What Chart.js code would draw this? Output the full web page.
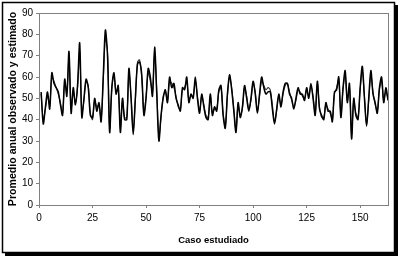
<!DOCTYPE html>
<html>
<head>
<meta charset="utf-8">
<script src="https://cdn.jsdelivr.net/npm/chart.js@4"></script>
<style>
  html, body { margin: 0; padding: 0; background: #fff; }
  #wrap { width: 400px; height: 259px; position: relative; }
</style>
</head>
<body>
<div id="wrap"><canvas id="chart" width="400" height="259"></canvas></div>
<script>
// promedio anual observado, casos 1..163
const observado = [
  53, 38, 46, 53, 45, 62, 57, 55, 53, 47, 42, 59, 51, 72, 43, 55, 47, 56, 76, 41,
  50, 59, 55, 42, 41, 50, 44, 48, 39, 60, 82, 70, 34, 55, 62, 52, 56, 34, 50, 40,
  40, 64, 50, 33, 50, 66, 67, 61, 42, 50, 64, 60, 51, 74, 52, 30, 42, 50, 54, 48,
  60, 55, 57, 50, 47, 44, 55, 54, 60, 48, 52, 50, 60, 50, 43, 52, 46, 41, 40, 52,
  42, 46, 44, 54, 56, 42, 36, 52, 61, 54, 44, 34, 48, 41, 46, 56, 50, 44, 50, 58,
  52, 43, 52, 60, 55, 52, 53, 53, 45, 38, 45, 52, 46, 53, 57, 57, 52, 50, 45, 50,
  55, 52, 52, 49, 55, 50, 57, 50, 42, 58, 45, 42, 40, 48, 44, 44, 39, 53, 54, 60,
  41, 55, 63, 48, 57, 31, 50, 42, 40, 55, 65, 50, 37, 50, 63, 52, 48, 43, 55, 60,
  48, 55, 49
];
// promedio anual estimado
const estimado = [
  52, 40, 45, 51, 47, 60, 58, 55, 52, 48, 43, 57, 53, 69, 45, 53, 48, 55, 72, 43,
  49, 58, 56, 43, 40, 49, 46, 47, 40, 58, 78, 72, 36, 54, 61, 53, 54, 36, 49, 41,
  41, 62, 51, 35, 49, 67, 68, 59, 43, 51, 62, 58, 53, 71, 54, 32, 41, 51, 53, 49,
  58, 57, 55, 51, 46, 45, 54, 55, 58, 49, 51, 51, 58, 51, 44, 51, 47, 42, 41, 51,
  43, 45, 45, 53, 55, 43, 37, 51, 60, 55, 45, 35, 47, 42, 45, 55, 51, 45, 49, 57,
  53, 44, 51, 58, 56, 54, 55, 54, 47, 39, 44, 51, 47, 52, 56, 57, 53, 49, 46, 49,
  54, 53, 51, 50, 54, 51, 56, 51, 43, 57, 46, 41, 41, 47, 45, 43, 40, 52, 55, 59,
  42, 54, 61, 49, 55, 33, 49, 43, 41, 54, 63, 51, 38, 49, 61, 53, 47, 44, 54, 58,
  49, 53, 50
];
const xTicks = [0, 25, 50, 75, 100, 125, 150];
const yTicks = [0, 10, 20, 30, 40, 50, 60, 70, 80, 90];

const toPoints = arr => arr.map((v, i) => ({ x: i + 1, y: v }));

const frame = {
  id: "frame",
  beforeDraw(chart) {
    const c = chart.ctx;
    c.save();
    c.fillStyle = "#fff";
    c.fillRect(0, 0, chart.width, chart.height);
    // sombra
    c.fillStyle = "#000";
    c.fillRect(395, 5, 3, 251);
    c.fillRect(5, 253, 393, 3);
    c.strokeStyle = "#000";
    c.lineWidth = 1.5;
    c.strokeRect(2.5, 2.5, 392, 250);
    c.restore();
  },
  afterDatasetsDraw(chart) {
    const a = chart.chartArea;
    const c = chart.ctx;
    c.save();
    c.strokeStyle = "#808080";
    c.lineWidth = 1;
    c.strokeRect(a.left + 0.5, a.top + 0.5, a.right - a.left, a.bottom - a.top);
    c.restore();
  }
};

new Chart(document.getElementById("chart"), {
  type: "line",
  data: {
    datasets: [
      { label: "Observado", data: toPoints(observado), borderColor: "#000", borderWidth: 1.5, pointRadius: 0, tension: 0.3 },
      { label: "Estimado", data: toPoints(estimado), borderColor: "#333", borderWidth: 1.1, pointRadius: 0, tension: 0.3 }
    ]
  },
  plugins: [frame],
  options: {
    responsive: false,
    animation: false,
    layout: { padding: { top: 13, right: 12, left: 0, bottom: 0 } },
    plugins: { legend: { display: false }, tooltip: { enabled: false } },
    scales: {
      x: {
        type: "linear",
        min: 0,
        max: 163,
        afterBuildTicks: s => { s.ticks = xTicks.map(v => ({ value: v })); },
        afterFit: s => { s.height = 54; },
        grid: { drawOnChartArea: false, tickLength: 3, color: "#808080" },
        border: { color: "#808080" },
        ticks: { color: "#000", font: { family: "Liberation Sans", size: 10 }, padding: 4, maxRotation: 0 },
        title: { display: true, text: "Caso estudiado", color: "#000", font: { family: "Liberation Sans", size: 9.5, weight: "bold" }, padding: { top: 0, bottom: 13 } }
      },
      y: {
        min: 0,
        max: 90,
        afterBuildTicks: s => { s.ticks = yTicks.map(v => ({ value: v })); },
        afterFit: s => { s.width = 39; },
        grid: { drawOnChartArea: false, tickLength: 3, color: "#808080" },
        border: { color: "#808080" },
        ticks: { color: "#000", font: { family: "Liberation Sans", size: 10 }, padding: 3 },
        title: { display: true, text: "Promedio anual observado y estimado", color: "#000", font: { family: "Liberation Sans", size: 10.6, weight: "bold" }, padding: { top: 7, bottom: 7 } }
      }
    }
  }
});
</script>
</body>
</html>
